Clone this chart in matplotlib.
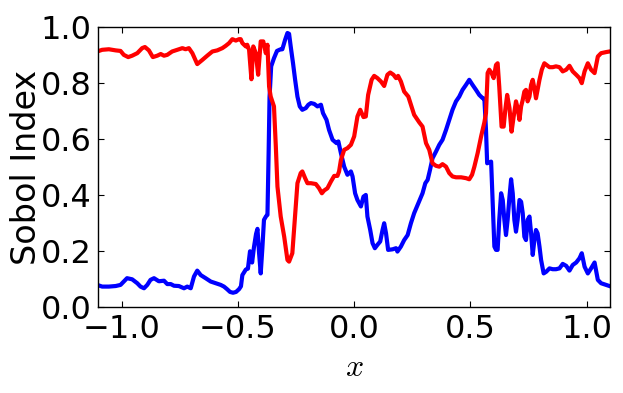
import matplotlib
matplotlib.use("Agg")
import matplotlib.pyplot as plt
import numpy as np

# First-order Sobol index for the two inputs
x_red = [-1.105, -1.084, -1.055, -1.026, -1.005, -0.991, -0.972, -0.955, -0.933, -0.912,
         -0.900, -0.883, -0.866, -0.847, -0.832, -0.818, -0.804, -0.783, -0.761, -0.739,
         -0.725, -0.711, -0.696, -0.675, -0.653, -0.632, -0.610, -0.589, -0.567, -0.553,
         -0.538, -0.524, -0.509, -0.495, -0.488, -0.481, -0.466, -0.460, -0.452, -0.442,
         -0.434, -0.423, -0.413, -0.402, -0.391, -0.380, -0.373, -0.366, -0.359, -0.345,
         -0.337, -0.330, -0.316, -0.301, -0.287, -0.280, -0.266, -0.251, -0.244, -0.230,
         -0.223, -0.211, -0.201, -0.186, -0.165, -0.151, -0.139, -0.129, -0.115, -0.100,
         -0.086, -0.072, -0.065, -0.057, -0.043, -0.029, -0.014, 0.000, 0.014, 0.026,
         0.040, 0.050, 0.060, 0.075, 0.086, 0.100, 0.115, 0.129, 0.143, 0.155,
         0.169, 0.180, 0.189, 0.201, 0.215, 0.233, 0.244, 0.258, 0.280, 0.294,
         0.309, 0.323, 0.337, 0.352, 0.366, 0.380, 0.395, 0.409, 0.423, 0.438,
         0.460, 0.481, 0.495, 0.507, 0.517, 0.531, 0.546, 0.560, 0.567, 0.574,
         0.581, 0.591, 0.600, 0.610, 0.617, 0.624, 0.634, 0.643, 0.650, 0.658,
         0.668, 0.677, 0.686, 0.696, 0.703, 0.711, 0.718, 0.725, 0.732, 0.739,
         0.746, 0.754, 0.761, 0.768, 0.775, 0.782, 0.789, 0.797, 0.807, 0.818,
         0.840, 0.854, 0.868, 0.883, 0.897, 0.912, 0.926, 0.940, 0.955, 0.969,
         0.979, 0.991, 1.005, 1.019, 1.034, 1.048, 1.062, 1.084, 1.098]
y_red = [0.913, 0.919, 0.921, 0.917, 0.915, 0.901, 0.893, 0.898, 0.907, 0.925,
         0.929, 0.917, 0.893, 0.898, 0.904, 0.898, 0.901, 0.913, 0.919, 0.925,
         0.921, 0.925, 0.907, 0.868, 0.883, 0.898, 0.913, 0.917, 0.925, 0.933,
         0.943, 0.957, 0.952, 0.957, 0.957, 0.943, 0.931, 0.937, 0.919, 0.814,
         0.931, 0.907, 0.830, 0.949, 0.949, 0.907, 0.937, 0.788, 0.752, 0.717,
         0.574, 0.431, 0.324, 0.252, 0.169, 0.163, 0.193, 0.360, 0.443, 0.479,
         0.485, 0.461, 0.443, 0.443, 0.440, 0.425, 0.407, 0.417, 0.425, 0.449,
         0.469, 0.469, 0.485, 0.526, 0.562, 0.568, 0.580, 0.610, 0.681, 0.705,
         0.679, 0.681, 0.758, 0.812, 0.826, 0.818, 0.806, 0.790, 0.830, 0.838,
         0.830, 0.818, 0.826, 0.806, 0.770, 0.752, 0.723, 0.687, 0.660, 0.645,
         0.586, 0.562, 0.514, 0.505, 0.502, 0.511, 0.502, 0.479, 0.467, 0.464,
         0.464, 0.461, 0.457, 0.473, 0.502, 0.550, 0.610, 0.660, 0.693, 0.836,
         0.848, 0.836, 0.818, 0.865, 0.871, 0.788, 0.645, 0.645, 0.705, 0.758,
         0.711, 0.627, 0.681, 0.735, 0.711, 0.669, 0.717, 0.740, 0.770, 0.776,
         0.735, 0.752, 0.794, 0.812, 0.782, 0.746, 0.776, 0.812, 0.848, 0.871,
         0.857, 0.857, 0.860, 0.857, 0.842, 0.848, 0.862, 0.842, 0.830, 0.818,
         0.800, 0.842, 0.871, 0.848, 0.836, 0.895, 0.907, 0.911, 0.913]

x_blue = [-1.105, -1.084, -1.055, -1.026, -1.005, -0.991, -0.977, -0.955, -0.933, -0.919,
          -0.904, -0.890, -0.876, -0.861, -0.840, -0.818, -0.804, -0.789, -0.775, -0.754,
          -0.732, -0.718, -0.703, -0.689, -0.675, -0.660, -0.639, -0.617, -0.596, -0.574,
          -0.560, -0.547, -0.534, -0.521, -0.508, -0.495, -0.487, -0.481, -0.466, -0.457,
          -0.448, -0.439, -0.431, -0.422, -0.416, -0.409, -0.402, -0.395, -0.388, -0.379,
          -0.373, -0.368, -0.364, -0.357, -0.345, -0.332, -0.319, -0.309, -0.297, -0.287,
          -0.280, -0.273, -0.263, -0.254, -0.244, -0.234, -0.223, -0.208, -0.197, -0.186,
          -0.172, -0.158, -0.143, -0.134, -0.119, -0.108, -0.093, -0.076, -0.068, -0.057,
          -0.043, -0.029, -0.014, -0.007, 0.004, 0.014, 0.029, 0.040, 0.050, 0.057,
          0.069, 0.079, 0.089, 0.100, 0.112, 0.122, 0.129, 0.137, 0.146, 0.165,
          0.180, 0.186, 0.201, 0.215, 0.230, 0.244, 0.258, 0.280, 0.294, 0.306,
          0.316, 0.326, 0.337, 0.352, 0.366, 0.380, 0.395, 0.409, 0.423, 0.438,
          0.452, 0.466, 0.481, 0.495, 0.509, 0.524, 0.538, 0.553, 0.560, 0.567,
          0.572, 0.581, 0.589, 0.596, 0.603, 0.610, 0.617, 0.624, 0.632, 0.639,
          0.646, 0.653, 0.660, 0.668, 0.675, 0.682, 0.689, 0.696, 0.703, 0.711,
          0.718, 0.725, 0.732, 0.739, 0.746, 0.754, 0.761, 0.768, 0.775, 0.782,
          0.789, 0.797, 0.804, 0.815, 0.826, 0.840, 0.854, 0.868, 0.883, 0.897,
          0.912, 0.926, 0.940, 0.955, 0.969, 0.979, 0.991, 1.005, 1.019, 1.034,
          1.048, 1.062, 1.084, 1.098]
y_blue = [0.080, 0.074, 0.074, 0.076, 0.080, 0.092, 0.104, 0.100, 0.086, 0.074,
          0.068, 0.080, 0.098, 0.104, 0.093, 0.095, 0.083, 0.083, 0.077, 0.076,
          0.068, 0.074, 0.068, 0.110, 0.131, 0.115, 0.104, 0.092, 0.086, 0.080,
          0.074, 0.065, 0.055, 0.052, 0.055, 0.065, 0.075, 0.115, 0.135, 0.138,
          0.200, 0.160, 0.215, 0.262, 0.280, 0.193, 0.121, 0.210, 0.312, 0.325,
          0.330, 0.550, 0.750, 0.860, 0.889, 0.915, 0.920, 0.921, 0.955, 0.979,
          0.976, 0.931, 0.871, 0.812, 0.752, 0.717, 0.705, 0.711, 0.723, 0.729,
          0.726, 0.717, 0.723, 0.693, 0.669, 0.633, 0.598, 0.586, 0.592, 0.550,
          0.502, 0.473, 0.485, 0.467, 0.407, 0.383, 0.360, 0.395, 0.401, 0.324,
          0.276, 0.229, 0.211, 0.223, 0.235, 0.276, 0.300, 0.264, 0.205, 0.207,
          0.211, 0.199, 0.217, 0.240, 0.258, 0.300, 0.336, 0.380, 0.407, 0.443,
          0.455, 0.490, 0.532, 0.556, 0.580, 0.598, 0.633, 0.669, 0.705, 0.735,
          0.752, 0.776, 0.794, 0.812, 0.794, 0.776, 0.758, 0.746, 0.745, 0.633,
          0.514, 0.517, 0.520, 0.371, 0.217, 0.205, 0.205, 0.312, 0.407, 0.383,
          0.312, 0.258, 0.312, 0.395, 0.457, 0.407, 0.312, 0.270, 0.312, 0.383,
          0.377, 0.336, 0.252, 0.240, 0.312, 0.324, 0.264, 0.187, 0.240, 0.276,
          0.264, 0.217, 0.169, 0.121, 0.127, 0.139, 0.136, 0.136, 0.139, 0.155,
          0.148, 0.131, 0.151, 0.160, 0.175, 0.193, 0.145, 0.121, 0.139, 0.160,
          0.098, 0.086, 0.080, 0.076]

x_ticks = [-1.0, -0.5, 0.0, 0.5, 1.0]
y_ticks = [0.0, 0.2, 0.4, 0.6, 0.8, 1.0]

plt.rcParams['font.family'] = ['DejaVu Sans']
plt.rcParams['mathtext.fontset'] = 'cm'

fig = plt.figure(figsize=(6.23, 3.93), dpi=100)
ax = fig.add_axes([0.158, 0.218, 0.821, 0.713])

ax.plot(x_blue, y_blue, color='#0000ff', lw=3.0)
ax.plot(x_red, y_red, color='#ff0000', lw=3.0)

ax.set_xlim(-1.1, 1.1)
ax.set_ylim(0.0, 1.0)
ax.set_xticks(x_ticks)
ax.set_yticks(y_ticks)
ax.set_xticklabels(['\u2212%.1f' % abs(v) if v < 0 else '%.1f' % v for v in x_ticks])
ax.set_yticklabels(['%.1f' % v for v in y_ticks])
ax.tick_params(direction='in', length=4, width=0.8, top=True, right=True,
               labelsize=23, pad=5, colors='black')
for s in ax.spines.values():
    s.set_linewidth(1.0)
    s.set_color('black')

ax.set_xlabel('$x$', fontsize=23, labelpad=5)
ax.set_ylabel('Sobol Index', fontsize=24, labelpad=-2)

fig.savefig('out.png', dpi=100, facecolor='white')
